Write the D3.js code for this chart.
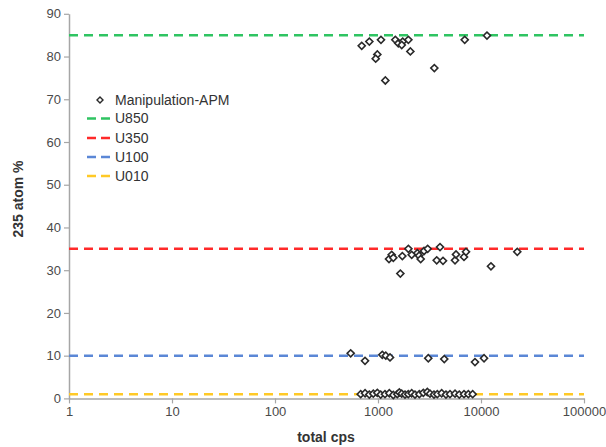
<!DOCTYPE html>
<html><head><meta charset="utf-8">
<script src="https://cdn.jsdelivr.net/npm/d3@7"></script>
<style>body{margin:0;background:#fff}svg{display:block}</style>
</head><body>
<script>
// Data
const apmX = [695,824,1069,985,950,1178,1473,1575,1738,1700,1972,2061,3524,6950,11430,
  1279,1358,1409,1648,1723,1972,2124,2410,2505,2596,2798,3036,3716,4000,4277,5594,5719,6837,7150,12500,22500,
  543,748,1101,1190,1308,3077,4400,8740,10700,
  679,749,823,900,985,1062,1169,1288,1408,1540,1610,1699,1829,1968,2124,2286,2518,2754,3012,3198,3497,3766,4150,4571,5000,5595,6152,6839,7535,8300];
const apmY = [82.5,83.5,83.9,80.5,79.5,74.4,83.9,83.1,83.5,82.7,83.9,81.2,77.3,83.9,84.9,
  32.6,33.6,32.9,29.2,33.3,35.0,33.6,34.0,33.4,32.6,34.5,35.0,32.3,35.4,32.2,32.3,33.7,33.1,34.3,30.9,34.3,
  10.55,8.8,10.2,10.0,9.6,9.4,9.2,8.5,9.4,
  1.0,1.2,0.9,1.1,1.3,0.9,1.0,1.2,0.8,1.0,1.4,1.1,0.9,1.0,1.2,0.9,1.0,1.3,1.5,1.1,0.9,1.0,1.2,0.9,1.0,1.1,0.9,1.0,1.0,1.0];
const refNames = ["U850","U350","U100","U010"];
const refValues = [85,35,10,1];
const refColors = ["#2fc462","#ff2a2a","#5b87d6","#ffc926"];
const xTicks = [1,10,100,1000,10000,100000];
const yTicks = [0,10,20,30,40,50,60,70,80,90];

const W=606,H=447;
const svg=d3.select("body").append("svg").attr("width",W).attr("height",H);
const x=d3.scaleLog().domain([1,100000]).range([69,584]);
const y=d3.scaleLinear().domain([0,90]).range([398.4,13.8]);
const font="Liberation Sans, Arial, sans-serif";

// axes
const xa=svg.append("g").attr("transform",`translate(0,${y(0)})`)
  .call(d3.axisBottom(x).tickValues(xTicks).tickFormat(d3.format("d")).tickSize(5).tickSizeOuter(0));
const ya=svg.append("g").attr("transform",`translate(${x(1)},0)`)
  .call(d3.axisLeft(y).tickValues(yTicks).tickSize(5).tickSizeOuter(0));
[xa,ya].forEach(g=>{
  g.select(".domain").attr("stroke","#a6a6a6").attr("stroke-width",1.5);
  g.selectAll(".tick line").attr("stroke","#a6a6a6").attr("stroke-width",1.2);
  g.selectAll("text").attr("fill","#4a4a4a").style("font-family",font).style("font-size","13px");
});
xa.selectAll("text").attr("dy","0.71em").attr("y",8);
ya.selectAll("text").attr("x",-8);

// reference lines
refValues.forEach((v,i)=>{
  svg.append("line").attr("x1",x(1)).attr("x2",x(100000)).attr("y1",y(v)).attr("y2",y(v))
    .attr("stroke",refColors[i]).attr("stroke-width",2.5).attr("stroke-dasharray","9,6");
});

// points
svg.append("g").selectAll("path").data(apmX.map((d,i)=>[d,apmY[i]])).join("path")
  .attr("d",d3.symbol().type(d3.symbolSquare).size(25))
  .attr("transform",d=>`translate(${x(d[0])},${y(d[1])}) rotate(45)`)
  .attr("fill","#fff").attr("stroke","#2a2a2a").attr("stroke-width",1.6);

// legend
const lg=svg.append("g");
lg.append("path").attr("d",d3.symbol().type(d3.symbolSquare).size(18)())
  .attr("transform","translate(100,100) rotate(45)").attr("fill","#fff").attr("stroke","#2a2a2a").attr("stroke-width",1.4);
lg.append("text").attr("x",115).attr("y",100).attr("dy","0.35em").text("Manipulation-APM")
  .style("font-family",font).style("font-size","14px").attr("fill","#333");
const ly=[118.5,138,157,176];
refNames.forEach((n,i)=>{
  lg.append("line").attr("x1",87).attr("x2",111).attr("y1",ly[i]).attr("y2",ly[i])
    .attr("stroke",refColors[i]).attr("stroke-width",2.5).attr("stroke-dasharray","9,5");
  lg.append("text").attr("x",115).attr("y",ly[i]).attr("dy","0.35em").text(n)
    .style("font-family",font).style("font-size","14px").attr("fill","#333");
});

// titles
svg.append("text").attr("x",326).attr("y",442).attr("text-anchor","middle").text("total cps")
  .style("font-family",font).style("font-size","14px").style("font-weight","bold").attr("fill","#333");
svg.append("text").attr("transform","translate(23,199) rotate(-90)").attr("text-anchor","middle").text("235 atom %")
  .style("font-family",font).style("font-size","14px").style("font-weight","bold").attr("fill","#333");
</script>
</body></html>
